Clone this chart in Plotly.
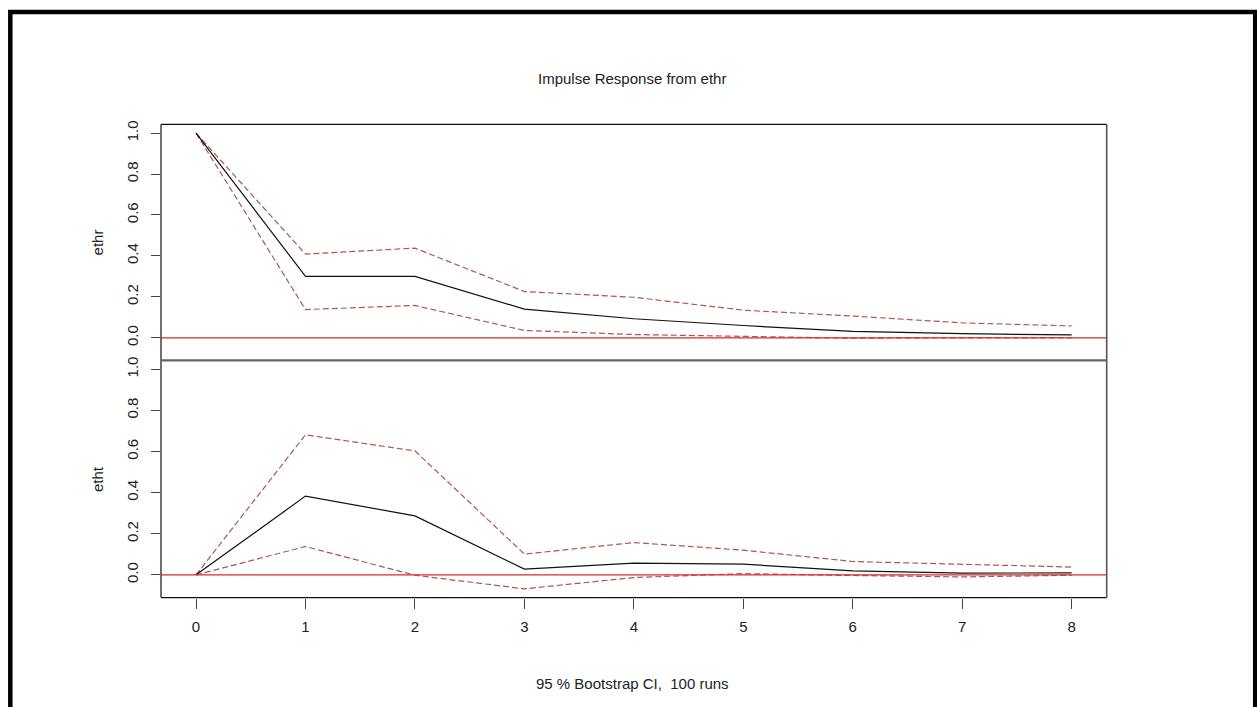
import plotly.graph_objects as go

# Horizons of the impulse response
steps = [0, 1, 2, 3, 4, 5, 6, 7, 8]

# Response of ethr to a shock in ethr
ethr_irf = [1.0, 0.300, 0.300, 0.140, 0.093, 0.060, 0.031, 0.020, 0.014]
ethr_upper = [1.0, 0.409, 0.438, 0.226, 0.198, 0.135, 0.106, 0.073, 0.058]
ethr_lower = [1.0, 0.138, 0.158, 0.036, 0.016, 0.008, -0.002, 0.001, 0.001]

# Response of etht to a shock in ethr
etht_irf = [0.0, 0.383, 0.287, 0.028, 0.057, 0.052, 0.019, 0.008, 0.010]
etht_upper = [0.0, 0.681, 0.603, 0.101, 0.157, 0.120, 0.065, 0.052, 0.038]
etht_lower = [0.0, 0.138, -0.002, -0.068, -0.013, 0.006, -0.003, -0.010, -0.002]

panel_names = ["ethr", "etht"]
y_ticks = [0.0, 0.2, 0.4, 0.6, 0.8, 1.0]
y_tick_text = ["0.0", "0.2", "0.4", "0.6", "0.8", "1.0"]

title_text = "Impulse Response from ethr"
footer_text = "95 % Bootstrap CI,\u00a0 100 runs"

W, H = 1257, 707
FONT = "Liberation Sans, Arial, sans-serif"
TXT = "#222222"
CI_COLOR = "#a85858"
ZERO_COLOR = "#d92a2a"

# common y limits across panels with a 4% margin, as in base R graphics
all_vals = ethr_irf + ethr_upper + ethr_lower + etht_irf + etht_upper + etht_lower
vmin, vmax = min(all_vals), max(all_vals)
span = vmax - vmin
y_range = [vmin - 0.04 * span, vmax + 0.04 * span]
xspan = steps[-1] - steps[0]
x_range = [steps[0] - 0.04 * xspan, steps[-1] + 0.04 * xspan]

# plot region in pixels
left_px, right_px = 161, 1106.7
top_px, mid_px, bot_px = 121, 358.5, 597
xd = [left_px / W, right_px / W]
top_dom = [1 - mid_px / H, 1 - top_px / H]
bot_dom = [1 - bot_px / H, 1 - mid_px / H]

fig = go.Figure()

panels = [
    ("x2", "y", ethr_irf, ethr_upper, ethr_lower),
    ("x", "y2", etht_irf, etht_upper, etht_lower),
]
for xa, ya, irf, up, lo in panels:
    for series in (up, lo):
        fig.add_trace(go.Scatter(
            x=steps, y=series, xaxis=xa, yaxis=ya, mode="lines",
            line=dict(color=CI_COLOR, width=1.2, dash="6px,3px"),
            showlegend=False, hoverinfo="skip"))
    fig.add_trace(go.Scatter(
        x=steps, y=irf, xaxis=xa, yaxis=ya, mode="lines",
        line=dict(color="#111111", width=1.2),
        showlegend=False, hoverinfo="skip"))

axis_font = dict(family=FONT, size=15, color=TXT)
yaxis_common = dict(
    range=y_range, tickvals=y_ticks, ticktext=y_tick_text, tickangle=-90,
    ticks="outside", ticklen=9, tickcolor="#444444", tickwidth=1,
    ticklabelstandoff=7,
    showgrid=False, zeroline=False, showline=False, tickfont=axis_font,
)

fig.update_layout(
    width=W, height=H,
    margin=dict(l=0, r=0, t=0, b=0),
    paper_bgcolor="white", plot_bgcolor="white",
    xaxis=dict(domain=xd, anchor="y2", range=x_range, tickvals=steps,
               ticks="outside", ticklen=10, tickcolor="#444444",
               ticklabelstandoff=5,
               showgrid=False, zeroline=False, showline=False,
               tickfont=axis_font),
    xaxis2=dict(domain=xd, anchor="y", range=x_range, showticklabels=False,
                ticks="", showgrid=False, zeroline=False, showline=False),
    yaxis=dict(domain=top_dom, anchor="x2", **yaxis_common),
    yaxis2=dict(domain=bot_dom, anchor="x", **yaxis_common),
)

shapes = []
# red zero reference lines across each panel
for xa, ya in (("x2", "y"), ("x", "y2")):
    shapes.append(dict(type="line", xref=f"{xa} domain", yref=ya,
                       x0=0, x1=1, y0=0, y1=0,
                       line=dict(color=ZERO_COLOR, width=1.2), layer="above"))

# panel frames
def seg(x0, y0, x1, y1, color, width):
    return dict(type="line", xref="paper", yref="paper",
                x0=x0, y0=y0, x1=x1, y1=y1,
                line=dict(color=color, width=width), layer="above")

shapes += [
    seg(xd[0], top_dom[1], xd[1], top_dom[1], "#111111", 1.2),
    seg(xd[0], bot_dom[0], xd[1], bot_dom[0], "#111111", 1.2),
    seg(xd[0], bot_dom[0], xd[0], top_dom[1], "#222222", 1.3),
    seg(xd[1], bot_dom[0], xd[1], top_dom[1], "#555555", 1.6),
    seg(xd[0], top_dom[0], xd[1], top_dom[0], "#666666", 2.2),
]

# outer frame around the whole graphic
shapes.append(dict(type="rect", xref="paper", yref="paper",
                   x0=10.3 / W, x1=1255.2 / W, y0=-0.1, y1=1 - 8 / H,
                   line=dict(color="black", width=4.5), layer="above"))
fig.update_layout(shapes=shapes)

ann = [
    dict(text=title_text, x=632 / W, y=1 - 75 / H, xref="paper", yref="paper",
         showarrow=False, xanchor="center", yanchor="middle",
         font=dict(family=FONT, size=15, color=TXT)),
    dict(text=footer_text, x=632 / W, y=1 - 683 / H, xref="paper", yref="paper",
         showarrow=False, xanchor="center", yanchor="middle",
         font=dict(family=FONT, size=15, color=TXT)),
]
for name, dom in zip(panel_names, (top_dom, bot_dom)):
    ann.append(dict(text=name, x=97 / W, y=(dom[0] + dom[1]) / 2,
                    xref="paper", yref="paper", textangle=-90,
                    showarrow=False, xanchor="center", yanchor="middle",
                    font=dict(family=FONT, size=15, color=TXT)))
fig.update_layout(annotations=ann)

fig.write_html("out.html")
